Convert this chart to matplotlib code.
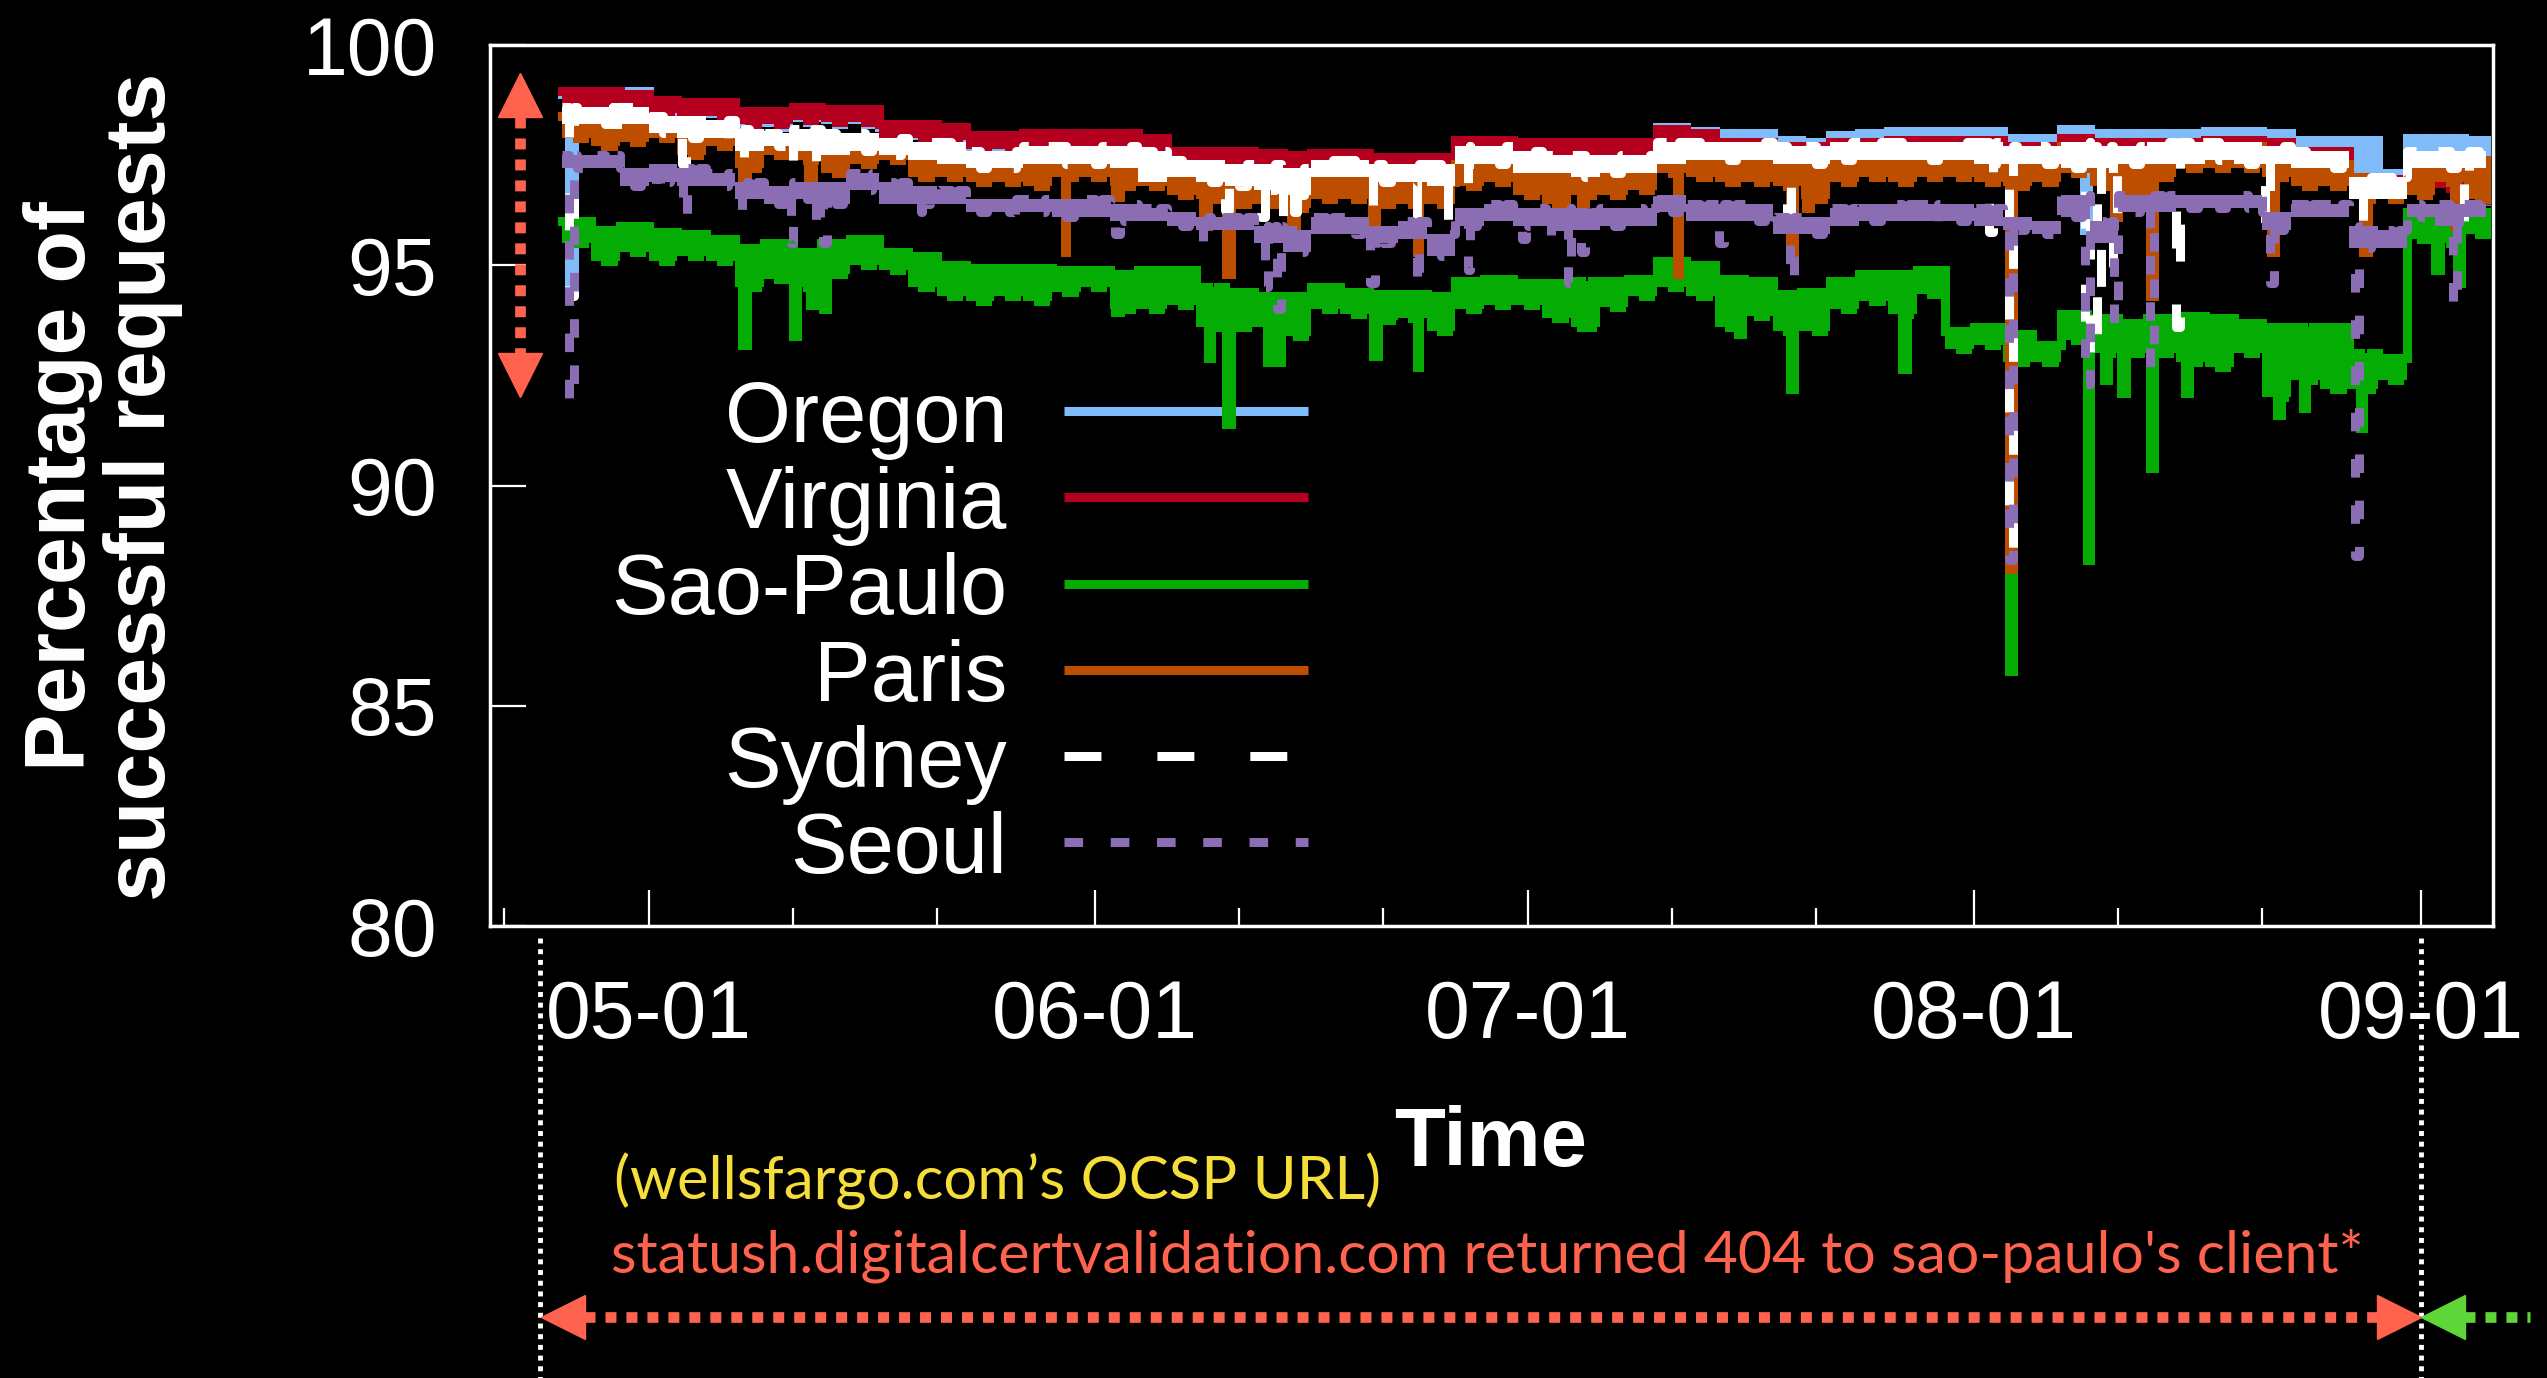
import numpy as np
import matplotlib
matplotlib.use("Agg")
import matplotlib.pyplot as plt
import matplotlib.dates as mdates

plt.rcParams["font.family"] = ["Liberation Sans", "DejaVu Sans"]
plt.rcParams["lines.scale_dashes"] = False

# time axis: days since 2015-04-20, one (upper, lower) reading per 2-day bin
start = np.datetime64("2015-04-20")
bin_days = np.arange(5, 139, 2)
last_day = 138.5

regions = ["Oregon", "Virginia", "Sao-Paulo", "Paris", "Sydney", "Seoul"]

oregon_hi = [98.9, 98.9, 98.95, 98.7, 98.65, 98.65, 98.45, 98.45, 98.55, 98.5,
             98.5, 98.15, 98.15, 98.1, 97.9, 97.9, 97.95, 97.95, 97.95, 97.95,
             97.85, 97.55, 97.55, 97.55, 97.5, 97.45, 97.5, 97.5, 97.4, 97.4,
             97.4, 97.8, 97.8, 97.75, 97.75, 97.75, 97.75, 97.8, 98.15, 98.05,
             98.0, 98.0, 97.85, 97.8, 97.95, 98.0, 98.05, 98.05, 98.05, 98.05,
             97.9, 97.9, 98.1, 98.0, 98.0, 98.0, 98.0, 98.05, 98.05, 98.0,
             97.85, 97.85, 97.85, 97.1, 97.9, 97.9, 97.85]
oregon_lo = [98.6, 98.6, 98.6, 98.4, 98.35, 98.35, 98.15, 98.15, 98.25, 98.2,
             98.2, 97.85, 97.85, 97.8, 97.6, 97.6, 97.65, 97.65, 97.65, 97.65,
             97.55, 97.25, 97.25, 97.25, 97.2, 97.15, 97.2, 97.2, 97.1, 97.1,
             97.1, 97.5, 97.5, 97.45, 97.45, 97.45, 97.45, 97.5, 97.85, 97.75,
             97.7, 97.7, 97.55, 97.5, 97.65, 97.7, 97.75, 97.75, 97.75, 97.75,
             97.6, 97.6, 97.8, 97.7, 97.7, 97.7, 97.7, 97.75, 97.75, 97.7,
             97.55, 97.55, 97.1, 96.9, 97.6, 97.6, 97.55]
oregon_dips = [(5.5, 94.5), (110.6, 95.8)]

virginia_hi = [98.95, 98.95, 98.9, 98.75, 98.7, 98.7, 98.5, 98.5, 98.6, 98.55,
               98.55, 98.2, 98.2, 98.15, 97.95, 97.95, 98.0, 98.0, 98.0, 98.0,
               97.9, 97.6, 97.6, 97.6, 97.55, 97.5, 97.55, 97.55, 97.45, 97.45,
               97.45, 97.85, 97.85, 97.8, 97.8, 97.8, 97.8, 97.8, 98.1, 98.0,
               97.8, 97.8, 97.7, 97.7, 97.8, 97.8, 97.85, 97.85, 97.85, 97.85,
               97.7, 97.7, 97.9, 97.8, 97.8, 97.8, 97.8, 97.85, 97.85, 97.8,
               97.6, 97.6, 97.0, 96.95, 96.9, 96.9, 96.9]
virginia_lo = [98.6, 98.6, 98.6, 98.45, 98.4, 98.4, 98.2, 98.2, 98.3, 98.25,
               98.25, 97.9, 97.9, 97.85, 97.65, 97.65, 97.7, 97.7, 97.7, 97.7,
               97.6, 97.3, 97.3, 97.3, 97.25, 97.2, 97.25, 97.25, 97.15, 97.15,
               97.15, 97.55, 97.55, 97.5, 97.5, 97.5, 97.5, 97.5, 97.8, 97.7,
               97.5, 97.5, 97.4, 97.4, 97.5, 97.5, 97.55, 97.55, 97.55, 97.55,
               97.4, 97.4, 97.6, 97.5, 97.5, 97.5, 97.5, 97.55, 97.55, 97.5,
               97.3, 97.3, 96.7, 96.65, 96.75, 96.75, 96.75]
virginia_dips = [(55.6, 96.9)]

sao_hi = [96.0, 95.8, 95.9, 95.75, 95.7, 95.6, 95.4, 95.5, 95.3, 95.5,
          95.6, 95.3, 95.2, 95.0, 94.95, 94.95, 94.95, 94.9, 94.9, 94.8,
          94.9, 94.9, 94.5, 94.4, 94.3, 94.3, 94.5, 94.4, 94.35, 94.35,
          94.3, 94.65, 94.7, 94.6, 94.6, 94.65, 94.65, 94.7, 95.1, 95.0,
          94.7, 94.65, 94.35, 94.4, 94.65, 94.8, 94.8, 94.9, 93.5, 93.6,
          93.45, 93.2, 93.9, 93.8, 93.7, 93.8, 93.85, 93.8, 93.7, 93.6,
          93.6, 93.6, 93.0, 92.9, 96.2, 96.2, 96.2]
sao_lo = [95.5, 95.1, 95.3, 95.1, 95.2, 95.1, 94.5, 94.7, 94.5, 94.8,
          95.0, 94.9, 94.5, 94.3, 94.2, 94.3, 94.2, 94.4, 94.5, 94.0,
          94.0, 94.1, 93.6, 93.6, 93.6, 93.4, 94.0, 93.9, 93.75, 93.8,
          93.5, 94.0, 94.1, 94.1, 93.8, 93.6, 94.05, 94.3, 94.5, 94.3,
          93.6, 93.85, 93.5, 93.5, 94.0, 94.2, 93.9, 94.35, 93.1, 93.2,
          92.8, 92.8, 93.3, 93.0, 93.0, 93.0, 92.8, 92.7, 93.0, 92.0,
          92.4, 92.2, 92.2, 92.4, 95.6, 95.5, 95.7]
sao_dips = [(17.5, 93.2), (21.0, 93.4), (22.2, 94.1), (23.1, 94.0), (43.4, 93.95),
            (49.8, 92.9), (51.1, 91.4), (53.9, 92.8), (54.6, 92.8), (61.3, 92.95),
            (64.3, 92.7), (75.7, 93.6), (86.6, 93.45), (90.2, 92.2), (98.0, 92.65),
            (105.4, 85.8), (110.8, 88.3), (112.0, 92.4), (113.2, 92.1), (115.2, 90.4),
            (117.6, 92.1), (124.0, 91.6), (125.8, 91.75), (129.8, 91.3), (135.0, 94.9),
            (136.5, 94.6)]

paris_hi = [98.4, 98.3, 98.2, 98.3, 98.2, 98.2, 97.9, 97.9, 97.8, 97.7,
            97.8, 97.8, 97.5, 97.5, 97.4, 97.3, 97.4, 97.4, 97.4, 97.3,
            97.3, 97.0, 97.0, 96.9, 96.9, 96.8, 97.0, 97.0, 96.9, 96.9,
            96.9, 97.3, 97.4, 97.3, 97.0, 97.2, 97.3, 97.3, 97.6, 97.5,
            97.5, 97.4, 97.3, 97.3, 97.5, 97.5, 97.6, 97.6, 97.6, 97.5,
            97.3, 97.3, 97.7, 97.6, 97.5, 97.6, 97.7, 97.7, 97.7, 97.6,
            97.3, 97.3, 97.0, 96.9, 97.2, 97.4, 97.4]
paris_lo = [97.9, 97.7, 97.8, 97.9, 97.5, 97.7, 97.2, 97.5, 97.4, 97.1,
            97.3, 97.4, 97.0, 97.0, 96.9, 96.9, 96.8, 97.0, 97.0, 96.8,
            96.8, 96.6, 96.5, 96.4, 96.4, 96.3, 96.5, 96.5, 96.4, 96.4,
            96.4, 96.8, 96.9, 96.6, 96.4, 96.6, 96.6, 96.7, 97.1, 97.0,
            96.9, 96.9, 96.8, 96.5, 96.9, 97.0, 96.9, 97.0, 97.0, 96.9,
            96.8, 96.9, 97.1, 96.8, 96.5, 97.0, 97.2, 97.2, 97.2, 97.0,
            96.8, 96.8, 96.5, 96.5, 96.6, 96.9, 96.5]
paris_dips = [(17.5, 97.0), (22.1, 96.6), (39.9, 95.3), (43.4, 96.55), (49.5, 95.9),
              (51.1, 94.8), (55.6, 95.6), (61.2, 95.7), (64.3, 95.3), (75.7, 96.0),
              (82.4, 94.8), (90.2, 95.25), (91.3, 96.3), (105.4, 88.1), (112.7, 96.1),
              (115.2, 94.3), (123.6, 95.3), (130.0, 95.3), (136.3, 95.9)]

sydney_hi = [98.6, 98.6, 98.6, 98.4, 98.4, 98.3, 98.1, 98.0, 98.1, 98.0,
             98.0, 97.9, 97.8, 97.8, 97.6, 97.6, 97.7, 97.7, 97.7, 97.7,
             97.6, 97.4, 97.4, 97.3, 97.3, 97.2, 97.4, 97.4, 97.3, 97.3,
             97.3, 97.7, 97.7, 97.6, 97.5, 97.5, 97.5, 97.5, 97.8, 97.8,
             97.8, 97.8, 97.7, 97.7, 97.8, 97.8, 97.8, 97.8, 97.8, 97.8,
             97.7, 97.7, 97.8, 97.7, 97.7, 97.8, 97.8, 97.8, 97.8, 97.7,
             97.6, 97.6, 97.0, 97.0, 97.6, 97.6, 97.6]
sydney_lo = [98.2, 98.2, 98.2, 98.0, 97.9, 97.9, 97.6, 97.7, 97.6, 97.5,
             97.6, 97.5, 97.4, 97.3, 97.2, 97.2, 97.3, 97.3, 97.3, 97.2,
             96.9, 97.0, 96.9, 96.8, 96.7, 96.6, 97.0, 97.0, 96.9, 96.9,
             96.8, 97.3, 97.3, 97.1, 97.1, 97.0, 97.1, 97.1, 97.3, 97.4,
             97.4, 97.4, 97.3, 97.3, 97.4, 97.4, 97.4, 97.4, 97.4, 97.3,
             97.3, 97.3, 97.2, 97.2, 97.3, 97.3, 97.3, 97.4, 97.3, 97.3,
             97.2, 97.2, 96.5, 96.5, 97.2, 97.2, 97.2]
sydney_dips = [(5.5, 94.3), (8.5, 97.7), (13.3, 97.3), (17.3, 97.2), (20.9, 97.3),
               (22.6, 97.1), (44.9, 96.9), (51.0, 96.25), (53.5, 96.1), (54.9, 96.1),
               (55.8, 96.2), (61.3, 96.25), (64.3, 96.0), (66.2, 96.0), (67.9, 96.5),
               (90.0, 96.2), (104.0, 95.75), (105.4, 88.5), (110.7, 92.8), (111.5, 93.4),
               (112.6, 95.0), (117.0, 93.6), (123.2, 95.75), (130.0, 95.8), (137.0, 96.0)]

seoul_hi = [97.5, 97.5, 97.2, 97.3, 97.2, 97.1, 96.9, 96.8, 96.9, 96.9,
            97.1, 96.9, 96.8, 96.7, 96.5, 96.5, 96.5, 96.5, 96.5, 96.4,
            96.3, 96.2, 96.1, 96.1, 95.9, 95.8, 96.1, 96.1, 95.9, 96.0,
            95.7, 96.3, 96.4, 96.3, 96.3, 96.2, 96.3, 96.3, 96.6, 96.4,
            96.4, 96.4, 96.1, 96.1, 96.3, 96.4, 96.4, 96.4, 96.4, 96.3,
            96.1, 96.0, 96.6, 96.0, 96.6, 96.6, 96.6, 96.6, 96.6, 96.2,
            96.4, 96.4, 95.9, 95.8, 96.4, 96.4, 96.4]
seoul_lo = [97.2, 97.2, 96.8, 96.9, 96.8, 96.8, 96.5, 96.4, 96.5, 96.4,
            96.7, 96.4, 96.4, 96.4, 96.2, 96.2, 96.2, 96.1, 96.1, 96.0,
            96.0, 95.9, 95.8, 95.8, 95.5, 95.3, 95.7, 95.7, 95.5, 95.6,
            95.2, 95.9, 96.0, 95.9, 95.9, 95.8, 95.9, 95.9, 96.2, 96.0,
            96.0, 96.0, 95.7, 95.7, 95.9, 96.0, 96.0, 96.0, 96.0, 95.9,
            95.8, 95.7, 96.1, 95.5, 96.2, 96.2, 96.3, 96.3, 96.3, 95.8,
            96.1, 96.1, 95.4, 95.4, 96.1, 95.9, 96.1]
seoul_dips = [(5.5, 91.9), (11.5, 96.6), (13.4, 96.1), (17.5, 96.2), (20.9, 95.5),
              (22.6, 95.8), (23.1, 95.5), (29.9, 96.2), (36.4, 95.95), (43.4, 95.7),
              (49.5, 95.5), (53.8, 94.5), (54.6, 94.0), (61.1, 94.6), (64.3, 94.5),
              (67.9, 94.9), (71.6, 95.6), (73.3, 95.6), (74.8, 94.6), (75.7, 95.3),
              (85.3, 95.5), (90.2, 94.65), (105.4, 88.3), (110.7, 92.3), (112.7, 93.7),
              (115.2, 92.7), (123.5, 94.6), (129.4, 88.4), (136.2, 94.05)]

# annotation spans (days since start)
span_start, span_switch = 3.5, 134.0
range_arrow = (99.36, 92.0)

colors = ["#80BCFA", "#B4001E", "#04AC04", "#BD4E00", "#FFFFFF", "#8A6DB3"]
styles = [{}, {}, {}, {}, {"dashes": (26.6, 40.3)}, {"dashes": (13.4, 19.9)}]
note_red, note_yellow, note_green = "#FF634D", "#F5DD3A", "#5ED639"

base = mdates.date2num(start)


def build(hi, lo, dips):
    t, y = [], []
    for d, a, b in zip(bin_days, hi, lo):
        t += [d, d + 1, d + 1.5]
        y += [a, b, a]
    t.append(last_day)
    y.append(y[-1])
    for dt, dv in sorted(dips):
        i = int(np.searchsorted(t, dt, side="right"))
        back = y[i - 1]
        end = min(dt + 0.3, t[i]) if i < len(t) else dt + 0.3
        t[i:i] = [dt, end]
        y[i:i] = [dv, back]
    return base + np.array(t), np.array(y)


data = [(oregon_hi, oregon_lo, oregon_dips),
        (virginia_hi, virginia_lo, virginia_dips),
        (sao_hi, sao_lo, sao_dips),
        (paris_hi, paris_lo, paris_dips),
        (sydney_hi, sydney_lo, sydney_dips),
        (seoul_hi, seoul_lo, seoul_dips)]

fig = plt.figure(figsize=(25.47, 13.78), dpi=100, facecolor="black")
ax = fig.add_axes([0.1924, 0.328, 0.7864, 0.6393], facecolor="black")

lw = 6.5
xb = base + np.append(bin_days, last_day)
for (hi, lo, dips), c, st in zip(data, colors, styles):
    # band of the noisy readings, then the trace with its outages
    ax.fill_between(xb, lo + lo[-1:], hi + hi[-1:], step="post", color=c,
                    lw=0, zorder=3)
    x, y = build(hi, lo, dips)
    ax.step(x, y, where="post", color=c, lw=lw, solid_joinstyle="miter",
            dash_capstyle="butt", zorder=3, **st)

# key, drawn under the data like the original
for i, (name, c, st) in enumerate(zip(regions, colors, styles)):
    yy = 0.5846 - i * 0.0979
    ax.text(0.2581, yy - 0.035, name, transform=ax.transAxes, ha="right",
            va="baseline", fontsize=61, color="white", zorder=1)
    ax.plot([0.2866, 0.4084], [yy, yy], transform=ax.transAxes, color=c,
            lw=lw, solid_capstyle="butt", dash_capstyle="butt", zorder=1, **st)

ax.set_xlim(base + 0, base + 139)
ax.set_ylim(80, 100)
ax.set_yticks([80, 85, 90, 95, 100])
ax.xaxis.set_major_locator(mdates.MonthLocator())
ax.xaxis.set_major_formatter(mdates.DateFormatter("%m-%d"))
ax.xaxis.set_minor_locator(mdates.DayLocator(bymonthday=[11, 21]))
ax.tick_params(which="both", direction="in", colors="white", labelsize=58,
               top=False, right=False)
ax.tick_params(which="major", length=26, width=1.6)
ax.tick_params(which="minor", length=13, width=1.6)
ax.tick_params(axis="y", pad=38)
ax.tick_params(axis="x", pad=38)
for sp in ax.spines.values():
    sp.set_color("white")
    sp.set_linewidth(2.5)

fig.text(0.0405, 0.647, "Percentage of\nsuccessful requests", rotation=90,
         ha="center", va="center", fontsize=62, fontweight="bold",
         color="white", linespacing=1.0, multialignment="center")
fig.text(0.5854, 0.1695, "Time", ha="center", va="center", fontsize=60,
         fontweight="bold", color="white")

# vertical double arrow beside the data
xa = base + 2.1
ax.plot([xa, xa], [range_arrow[0] - 1.0, range_arrow[1] + 1.0], color=note_red,
        lw=7.7, dashes=(7.9, 7.2), dash_capstyle="butt", zorder=4)
ax.plot([xa], [range_arrow[0] - 0.5], marker="^", ms=32, color=note_red, zorder=4)
ax.plot([xa], [range_arrow[1] + 0.5], marker="v", ms=32, color=note_red, zorder=4)

# dotted guides below the axis and the time-span arrows
tr = ax.get_xaxis_transform()
for d in (span_start, span_switch):
    ax.plot([base + d, base + d], [-0.0136, -0.52], transform=tr, color="white",
            lw=3.5, dashes=(3.6, 4.1), dash_capstyle="butt", clip_on=False)
ya = -0.4438
ax.plot([base + span_start + 3.0, base + span_switch - 3.0], [ya, ya],
        transform=tr, color=note_red, lw=7.7, dashes=(7.9, 7.2),
        dash_capstyle="butt", clip_on=False)
ax.plot([base + span_start + 1.53], [ya], transform=tr, marker="<", ms=32,
        color=note_red, clip_on=False)
ax.plot([base + span_switch - 1.53], [ya], transform=tr, marker=">", ms=32,
        color=note_red, clip_on=False)
ax.plot([base + span_switch + 3.0, base + 141.6], [ya, ya], transform=tr,
        color=note_green, lw=7.7, dashes=(7.9, 7.2), dash_capstyle="butt",
        clip_on=False)
ax.plot([base + span_switch + 1.53], [ya], transform=tr, marker="<", ms=32,
        color=note_green, clip_on=False)

t1 = fig.text(0.2411, 0.1429, "(wellsfargo.com\u2019s OCSP URL)", ha="left",
              va="center", fontsize=40, color=note_yellow, family=["Lato", "DejaVu Sans"])
t2 = fig.text(0.2399, 0.0885,
              "statush.digitalcertvalidation.com returned 404 to sao-paulo's client*",
              ha="left", va="center", fontsize=40, color=note_red,
              family=["Lato", "DejaVu Sans"])
fig.canvas.draw()
r = fig.canvas.get_renderer()
for txt, target in ((t1, 767), (t2, 1753)):
    w = txt.get_window_extent(r).width
    txt.set_fontsize(txt.get_fontsize() * target / w)

fig.savefig("out.png", dpi=100, facecolor="black")
